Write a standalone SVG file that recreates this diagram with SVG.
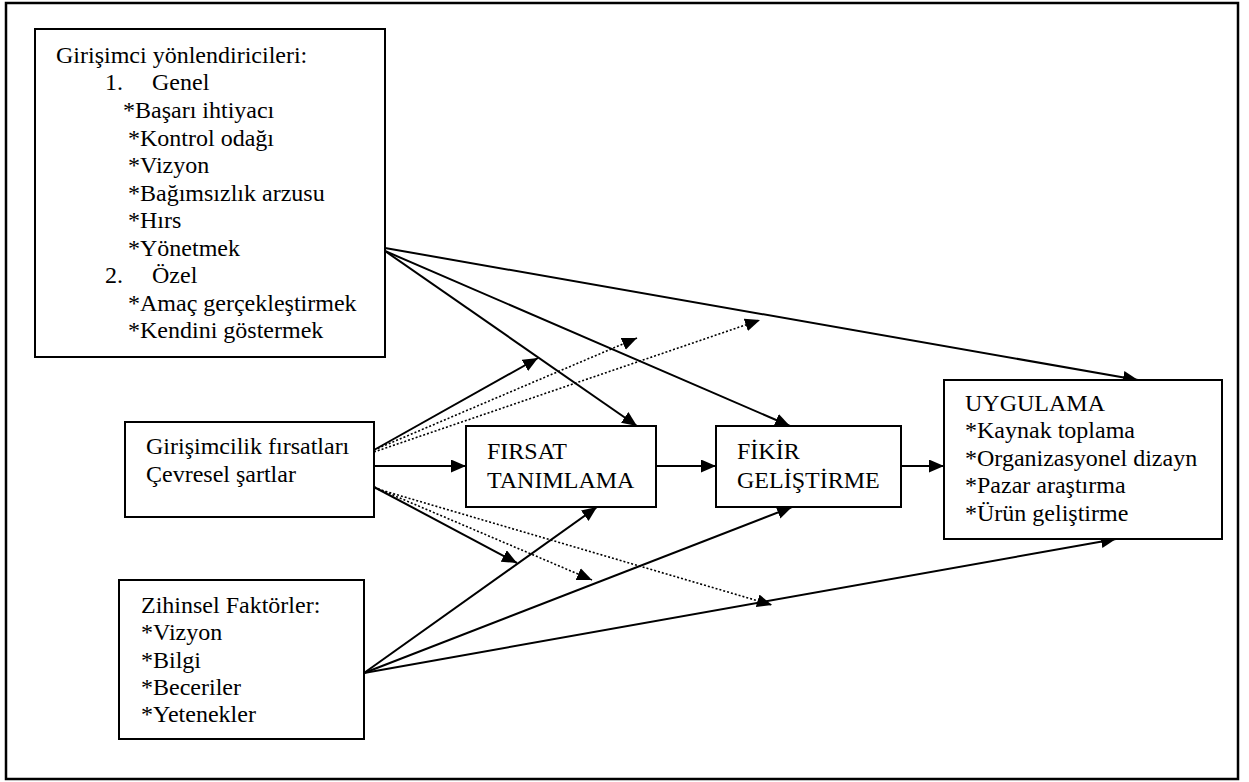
<svg xmlns="http://www.w3.org/2000/svg" width="1249" height="782" viewBox="0 0 1249 782">
<defs>
<marker id="ah" markerUnits="userSpaceOnUse" markerWidth="16" markerHeight="14" refX="15" refY="6.5" orient="auto">
<path d="M0,0 L15,6.5 L0,13 z" fill="#000"/>
</marker>
<style>
.t{font-family:'Liberation Serif',Tinos,'Times New Roman',Times,'Nimbus Roman','DejaVu Serif',serif;font-size:24px;fill:#000}
.box{fill:#fff;stroke:#000;stroke-width:2}
.c{stroke:#000;stroke-width:2;fill:none;marker-end:url(#ah)}
.d{stroke:#000;stroke-width:1.6;stroke-dasharray:2,2;fill:none;marker-end:url(#ah)}
</style>
</defs>
<rect x="0" y="0" width="1249" height="782" fill="#fff"/>
<rect x="6" y="3" width="1232" height="776" fill="none" stroke="#000" stroke-width="2.5"/>

<g id="connectors">
<line class="c" x1="385" y1="248" x2="1138" y2="380"/>
<line class="c" x1="385" y1="251" x2="790" y2="426"/>
<line class="c" x1="385" y1="251" x2="637" y2="426"/>
<line class="c" x1="374" y1="450" x2="538" y2="358"/>
<line class="d" x1="374" y1="450" x2="637" y2="338"/>
<line class="d" x1="374" y1="452" x2="760" y2="320"/>
<line class="c" x1="374" y1="466" x2="466" y2="466"/>
<line class="c" x1="656" y1="466" x2="716" y2="466"/>
<line class="c" x1="901" y1="466" x2="944" y2="466"/>
<line class="c" x1="374" y1="487" x2="517" y2="563"/>
<line class="d" x1="374" y1="487" x2="592" y2="580"/>
<line class="d" x1="374" y1="488" x2="772" y2="605"/>
<line class="c" x1="364" y1="673" x2="597" y2="507"/>
<line class="c" x1="364" y1="673" x2="792" y2="507"/>
<line class="c" x1="364" y1="673" x2="1116" y2="539"/>
</g>

<g id="yonlendiriciler" font-family="Liberation Serif, serif">
<rect class="box" x="35" y="29" width="350" height="328"/>
<text class="t" x="56" y="62.5">Girişimci yönlendiricileri:</text>
<text class="t" x="105" y="90">1.</text>
<text class="t" x="152" y="90">Genel</text>
<text class="t" x="123" y="118">*Başarı ihtiyacı</text>
<text class="t" x="128" y="145.5">*Kontrol odağı</text>
<text class="t" x="128" y="173">*Vizyon</text>
<text class="t" x="128" y="200.5">*Bağımsızlık arzusu</text>
<text class="t" x="128" y="228">*Hırs</text>
<text class="t" x="128" y="255.5">*Yönetmek</text>
<text class="t" x="105" y="283">2.</text>
<text class="t" x="152" y="283">Özel</text>
<text class="t" x="128" y="311">*Amaç gerçekleştirmek</text>
<text class="t" x="128" y="338">*Kendini göstermek</text>
</g>

<g id="firsatlar">
<rect class="box" x="125" y="422" width="249" height="95"/>
<text class="t" x="146" y="454">Girişimcilik fırsatları</text>
<text class="t" x="146" y="482">Çevresel şartlar</text>
</g>

<g id="zihinsel">
<rect class="box" x="119" y="580" width="245" height="159"/>
<text class="t" x="141" y="613">Zihinsel Faktörler:</text>
<text class="t" x="141" y="640">*Vizyon</text>
<text class="t" x="141" y="668">*Bilgi</text>
<text class="t" x="141" y="695">*Beceriler</text>
<text class="t" x="141" y="722">*Yetenekler</text>
</g>

<g id="firsat-tanimlama">
<rect class="box" x="466" y="426" width="190" height="81"/>
<text class="t" x="487" y="459">FIRSAT</text>
<text class="t" x="487" y="488">TANIMLAMA</text>
</g>

<g id="fikir-gelistirme">
<rect class="box" x="716" y="426" width="185" height="81"/>
<text class="t" x="737" y="459">FİKİR</text>
<text class="t" x="737" y="488">GELİŞTİRME</text>
</g>

<g id="uygulama">
<rect class="box" x="944" y="380" width="278" height="159"/>
<text class="t" x="965" y="411">UYGULAMA</text>
<text class="t" x="965" y="438">*Kaynak toplama</text>
<text class="t" x="965" y="466">*Organizasyonel dizayn</text>
<text class="t" x="965" y="493">*Pazar araştırma</text>
<text class="t" x="965" y="521">*Ürün geliştirme</text>
</g>
</svg>
